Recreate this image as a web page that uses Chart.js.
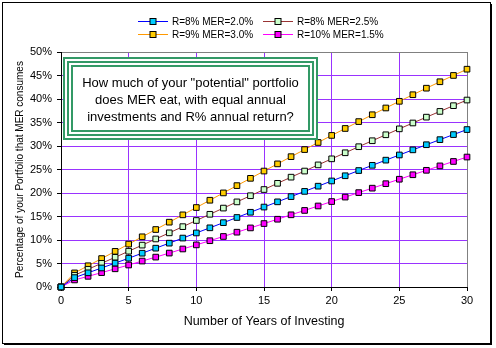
<!DOCTYPE html>
<html><head><meta charset="utf-8">
<script src="https://cdn.jsdelivr.net/npm/chart.js@4/dist/chart.umd.min.js"></script>
<style>html,body{margin:0;padding:0;background:#fff;}#wrap{width:496px;height:348px;position:relative;}</style>
</head><body><div id="wrap"><canvas id="c" width="496" height="348"></canvas></div>
<script>
const years = [0,1,2,3,4,5,6,7,8,9,10,11,12,13,14,15,16,17,18,19,20,21,22,23,24,25,26,27,28,29,30];
const seriesNames = ["R=8% MER=2.0%","R=8% MER=2.5%","R=9% MER=3.0%","R=10% MER=1.5%"];
const r8mer20 = [0,2.00,3.02,4.05,5.08,6.13,7.19,8.26,9.33,10.41,11.50,12.59,13.69,14.79,15.90,17.01,18.12,19.23,20.34,21.45,22.56,23.67,24.78,25.89,26.99,28.09,29.18,30.27,31.35,32.43,33.50];
const r8mer25 = [0,2.50,3.77,5.04,6.32,7.61,8.91,10.22,11.52,12.84,14.15,15.47,16.79,18.11,19.42,20.74,22.06,23.37,24.67,25.98,27.27,28.56,29.85,31.12,32.39,33.65,34.90,36.14,37.36,38.58,39.78];
const r9mer30 = [0,3.00,4.52,6.05,7.58,9.13,10.68,12.23,13.79,15.35,16.91,18.46,20.02,21.57,23.12,24.67,26.20,27.73,29.24,30.75,32.25,33.73,35.19,36.65,38.09,39.51,40.91,42.30,43.67,45.01,46.34];
const r10mer15 = [0,1.50,2.27,3.06,3.87,4.68,5.52,6.36,7.22,8.09,8.96,9.85,10.75,11.66,12.57,13.50,14.42,15.36,16.29,17.24,18.18,19.13,20.08,21.03,21.98,22.93,23.88,24.83,25.77,26.71,27.65];
const xTicks = [0,5,10,15,20,25,30];
const yTicks = [0,5,10,15,20,25,30,35,40,45,50];
const titleLines = ['How much of your "potential" portfolio','does MER eat, with equal annual','investments and R% annual return?'];
const xTitle = "Number of Years of Investing";
const yTitle = "Percentage of your Portfolio that MER consumes";

const FONT = "'Liberation Sans', Arial, sans-serif";
const lineColors = ['#0000FF','#993333','#FF9900','#FF00FF'];
const markColors = ['#00CCFF','#CCFFCC','#FFCC00','#FF00FF'];
const values = [r8mer20, r8mer25, r9mer30, r10mer15];
const GRID = '#9933FF';

const datasets = values.map((v,i)=>({
  label: seriesNames[i],
  data: years.map((x,j)=>({x:x, y:v[j]})),
  borderColor: lineColors[i],
  backgroundColor: markColors[i],
  borderWidth: 1,
  pointStyle: 'rect',
  pointRadius: 4,
  pointBorderColor: '#000',
  pointBackgroundColor: markColors[i],
  pointBorderWidth: 1,
  tension: 0,
  clip: false
}));

const decor = {
  id: 'decor',
  beforeDraw(chart){
    const ctx = chart.ctx;
    ctx.save(); ctx.fillStyle='#fff'; ctx.fillRect(0,0,chart.width,chart.height); ctx.restore();
  },
  afterDraw(chart){
    const ctx = chart.ctx;
    ctx.save();
    // outer border with shadow
    ctx.strokeStyle='#000'; ctx.lineWidth=1;
    ctx.strokeRect(2.5,2.5,488,341);
    ctx.beginPath(); ctx.moveTo(491.5,4); ctx.lineTo(491.5,345); ctx.moveTo(4,344.5); ctx.lineTo(492,344.5); ctx.stroke();
    // legend
    const cols=[138,263], rows=[21.5,34.5];
    ctx.font = "10px " + FONT;
    ctx.textBaseline='middle'; ctx.textAlign='left';
    chart.data.datasets.forEach((d,i)=>{
      const x0=cols[i%2], y=rows[Math.floor(i/2)];
      ctx.strokeStyle=d.borderColor; ctx.lineWidth=1;
      ctx.beginPath(); ctx.moveTo(x0,y); ctx.lineTo(x0+30,y); ctx.stroke();
      ctx.fillStyle=d.pointBackgroundColor; ctx.fillRect(x0+12,y-3,6,6);
      ctx.strokeStyle='#000'; ctx.strokeRect(x0+12,y-3,6,6);
      ctx.fillStyle='#000'; ctx.fillText(d.label, x0+34, y+0.5);
    });
    // title box
    const bx=63, by=57, bw=255, bh=83;
    ctx.fillStyle='#fff'; ctx.fillRect(bx,by,bw,bh);
    ctx.strokeStyle='#339966'; ctx.lineWidth=2;
    [0,4,8].forEach(o=>ctx.strokeRect(bx+o+1,by+o+1,bw-2*o-2,bh-2*o-2));
    ctx.fillStyle='#000'; ctx.font="13px "+FONT; ctx.textAlign='center'; ctx.textBaseline='middle';
    titleLines.forEach((t,i)=>ctx.fillText(t, bx+bw/2, 83+i*17));
    ctx.restore();
  }
};

new Chart(document.getElementById('c'), {
  type: 'line',
  data: { datasets },
  options: {
    responsive: false, animation: false, devicePixelRatio: 1,
    layout: { padding: { left: 0, right: 29, top: 52, bottom: 0 } },
    plugins: { legend: { display: false }, tooltip: { enabled: false }, title: { display: false } },
    scales: {
      x: {
        type: 'linear', min: 0, max: 30,
        afterBuildTicks: s => { s.ticks = xTicks.map(v=>({value:v})); },
        afterFit: s => { s.height = 61; },
        ticks: { font: { size: 11, family: FONT }, color: '#000', padding: 3, maxRotation: 0 },
        grid: { color: c => c.tick.value === 30 ? '#808080' : (c.tick.value === 0 ? 'rgba(0,0,0,0)' : GRID), tickColor: '#000', tickLength: 4, lineWidth: 1 },
        border: { color: '#000', width: 1 },
        title: { display: true, text: xTitle, color: '#000', font: { size: 12.5, family: FONT }, padding: { top: 4, bottom: 19 } }
      },
      y: {
        type: 'linear', min: 0, max: 50,
        afterBuildTicks: s => { s.ticks = yTicks.map(v=>({value:v})); },
        afterFit: s => { s.width = 61; },
        ticks: { font: { size: 11, family: FONT }, color: '#000', padding: 5, callback: v => v + '%' },
        grid: { color: c => c.tick.value === 50 ? '#808080' : (c.tick.value === 0 ? 'rgba(0,0,0,0)' : GRID), tickColor: '#000', tickLength: 4, lineWidth: 1 },
        border: { color: '#000', width: 1 },
        title: { display: true, text: yTitle, color: '#000', font: { size: 10, family: FONT }, padding: { top: 14, bottom: 4 } }
      }
    }
  },
  plugins: [decor]
});
</script></body></html>
